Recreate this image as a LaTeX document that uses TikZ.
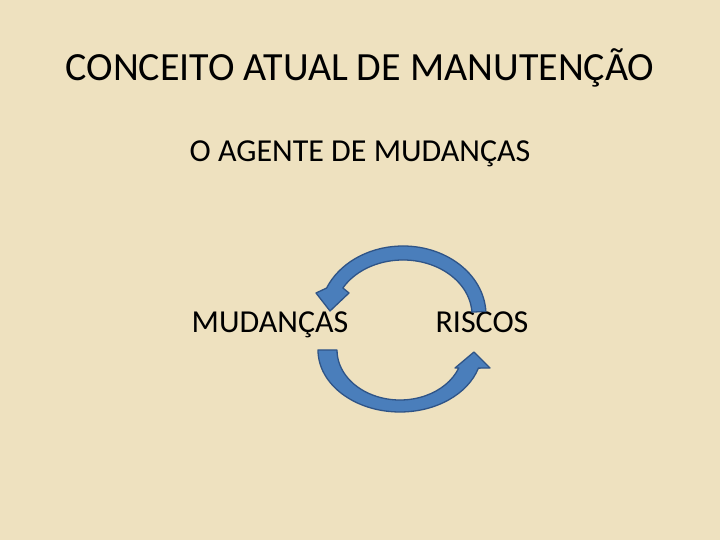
\documentclass[tikz,border=0pt]{standalone}
\usepackage{fontspec}
\setmainfont{Carlito}
\usetikzlibrary{calc}
\definecolor{bgc}{HTML}{EEE1BF}
\definecolor{arrfill}{HTML}{4A7EBB}
\definecolor{arrline}{HTML}{2F5487}
\begin{document}
\begin{tikzpicture}[x=1pt,y=1pt,
  txt/.style={inner sep=0pt,anchor=base,text=black},
  blockarrow/.style={fill=arrfill,draw=arrline,line width=1.3pt,line join=round}]
\fill[bgc] (0,0) rectangle (720,540);
\useasboundingbox (0,0) rectangle (720,540);
\node[txt,font=\fontsize{40}{48}\selectfont] (title) at (360,459) {CONCEITO ATUAL DE MANUTENÇÃO};
\node[txt,font=\fontsize{32}{38}\selectfont] (sub) at (360,378) {O AGENTE DE MUDANÇAS};
\node[txt,font=\fontsize{32}{38}\selectfont] (mud) at (270,207) {MUDANÇAS};
\node[txt,font=\fontsize{32}{38}\selectfont] (ris) at (482,207) {RISCOS};
% top arrow (right -> left)
\draw[blockarrow] (403,225) ++(3:83 and 69)
  arc[start angle=3,end angle=157,x radius=83,y radius=69]
  -- (316,247) -- (330,229) -- (349,247)
  -- ($(403,225)+(150.6:69 and 55)$)
  arc[start angle=150.6,end angle=3,x radius=69,y radius=55] -- cycle;
% bottom arrow (left -> right)
\draw[blockarrow] (400,190) ++(180:82 and 62)
  arc[start angle=180,end angle=343,x radius=82,y radius=62]
  -- (490,172) -- (474,188) -- (455,172)
  -- ($(400,190)+(338.9:63 and 50)$)
  arc[start angle=338.9,end angle=180,x radius=63,y radius=50] -- cycle;
\end{tikzpicture}
\end{document}
